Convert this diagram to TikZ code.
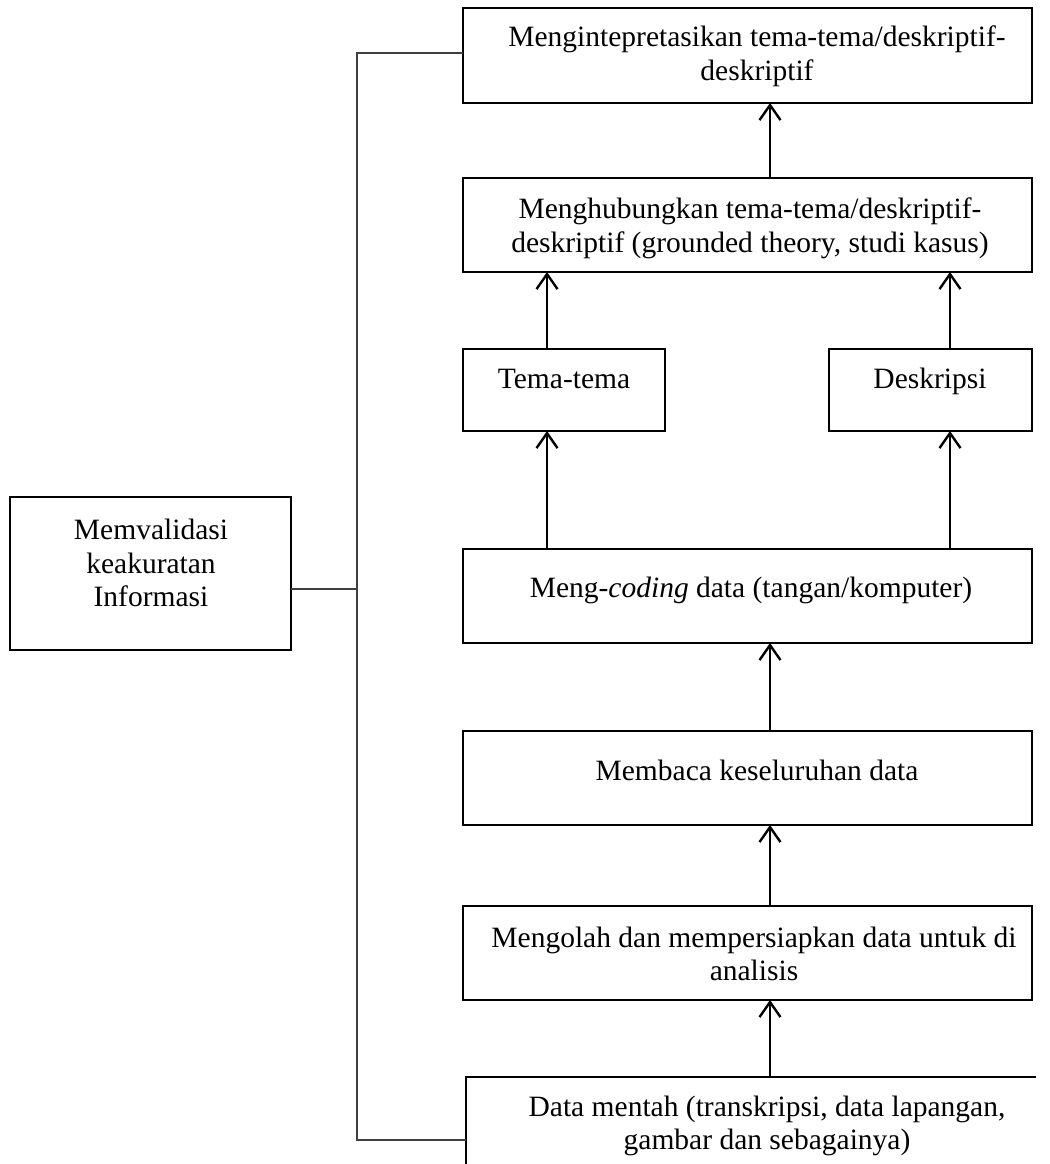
\documentclass[tikz,border=0pt]{standalone}
\usepackage{fontspec}
\setmainfont{Liberation Serif}
\usetikzlibrary{arrows.meta}
\newcommand\boxfont{\fontsize{29.5}{33.6}\selectfont}

\begin{document}
\begin{tikzpicture}[x=1pt,y=-1pt,
  box/.style={draw, line width=1.8pt, anchor=north west, inner sep=0pt, outer sep=0pt},
  openbox/.style={anchor=north west, inner sep=0pt, outer sep=0pt},
  lbl/.style={align=center, font=\boxfont, inner sep=0pt, anchor=center},
  flow/.style={line width=2.4pt, -{Straight Barb[length=15pt,width=21pt,line width=2.4pt]}},
  bracket/.style={line width=1.4pt, draw=black!75}]
\useasboundingbox (0,0) rectangle (1049,1164);
\begin{scope}
\clip (0,0) rectangle (1049,1164);

% process boxes
\node[box, minimum width=569pt, minimum height=95pt] (interp) at (463,8) {};
\node[box, minimum width=569pt, minimum height=94pt] (hub)    at (463,178) {};
\node[box, minimum width=202pt, minimum height=82pt] (tema)   at (463,349) {};
\node[box, minimum width=203pt, minimum height=82pt] (desk)   at (829,349) {};
\node[box, minimum width=569pt, minimum height=94pt] (coding) at (463,549) {};
\node[box, minimum width=569pt, minimum height=94pt] (baca)   at (463,731) {};
\node[box, minimum width=569pt, minimum height=94pt] (olah)   at (463,906) {};
\node[openbox, minimum width=570pt, minimum height=100pt] (data) at (466,1077) {};
\node[box, minimum width=281pt, minimum height=153pt] (valid) at (10,497) {};
% the lowest box runs past the lower edge: only its top and left sides show
\draw[line width=1.8pt] (data.north east) -- (data.north west) -- (data.south west);

% box texts
\node[lbl] (interp-t) at (757,56) {Mengintepretasikan tema-tema/deskriptif-\\deskriptif};
\node[lbl] (hub-t)    at (750,228) {Menghubungkan tema-tema/deskriptif-\\deskriptif (grounded theory, studi kasus)};
\node[lbl, anchor=base] (tema-t) at (564,388) {Tema-tema};
\node[lbl, anchor=base] (desk-t) at (930,388) {Deskripsi};
\node[lbl] (coding-t) at (751,590) {Meng-\textit{coding} data (tangan/komputer)};
\node[lbl] (baca-t)   at (757,770) {Membaca keseluruhan data};
\node[lbl] (olah-t)   at (754,954) {Mengolah dan mempersiapkan data untuk di\\analisis};
\node[lbl] (data-t)   at (767,1126) {Data mentah (transkripsi, data lapangan,\\gambar dan sebagainya)};
\node[lbl] (valid-t)  at (151,563) {Memvalidasi\\keakuratan\\Informasi};

% arrow columns
\coordinate (spine) at (770,0);
\coordinate (tx) at (547,0);
\coordinate (dx) at (950,0);

\draw[flow] (data.north -| spine) -- (olah.south -| spine);
\draw[flow] (olah.north -| spine) -- (baca.south -| spine);
\draw[flow] (baca.north -| spine) -- (coding.south -| spine);
\draw[flow] (coding.north -| tx) -- (tema.south -| tx);
\draw[flow] (coding.north -| dx) -- (desk.south -| dx);
\draw[flow] (tema.north -| tx) -- (hub.south -| tx);
\draw[flow] (desk.north -| dx) -- (hub.south -| dx);
\draw[flow] (hub.north -| spine) -- (interp.south -| spine);

% validation bracket
\coordinate (bt) at (357,53);
\coordinate (bb) at (357,1140);
\coordinate (vj) at (357,589);
\draw[bracket] (interp.west |- bt) -- (bt) -- (bb) -- (data.west |- bb);
\draw[bracket] (valid.east |- vj) -- (vj);
\end{scope}
\end{tikzpicture}
\end{document}
